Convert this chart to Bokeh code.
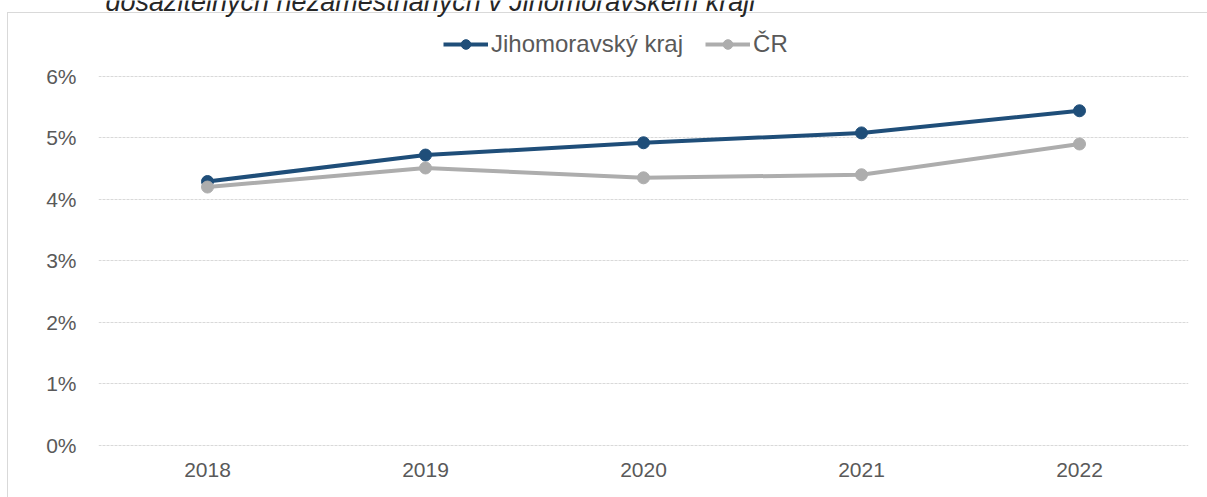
from bokeh.plotting import figure
from bokeh.models import FactorRange, Range1d, Legend, LegendItem, Label, PrintfTickFormatter
from bokeh.embed import file_html
from bokeh.resources import INLINE

years = ["2018", "2019", "2020", "2021", "2022"]
jmk = [4.29, 4.72, 4.92, 5.08, 5.44]
cr = [4.20, 4.51, 4.35, 4.40, 4.90]
y_ticks = [0, 1, 2, 3, 4, 5, 6]
series_names = ["Jihomoravský kraj", "ČR"]
title_text = "dosažitelných nezaměstnaných v Jihomoravském kraji"

FONT = "Liberation Sans"
TXT = "#595959"
BLUE = "#1F4E79"
GRAY = "#ADADAD"
LINE = "#D9D9D9"

p = figure(width=1207, height=497,
           x_range=FactorRange(*years, range_padding=0),
           y_range=Range1d(-0.1, 7.233),
           output_backend="svg", toolbar_location=None,
           min_border_left=98, min_border_right=19,
           min_border_top=0, min_border_bottom=46)
p.outline_line_color = None
p.background_fill_color = None
p.border_fill_color = None
p.styles = {
    "background-color": "white",
    "background-image": f"linear-gradient({LINE}, {LINE}), linear-gradient({LINE}, {LINE})",
    "background-position": "7px 12px, 7px 12px",
    "background-size": "1px 100%, 100% 1px",
    "background-repeat": "no-repeat",
}

p.xgrid.grid_line_color = None
p.ygrid.grid_line_color = LINE
p.ygrid.grid_line_width = 1
p.ygrid.grid_line_dash = "3 1"

for ax in (p.xaxis[0], p.yaxis[0]):
    ax.axis_line_color = None
    ax.major_tick_line_color = None
    ax.minor_tick_line_color = None
    ax.major_tick_out = 0
    ax.major_tick_in = 0
    ax.minor_tick_out = 0
    ax.major_label_text_font = FONT
    ax.major_label_text_font_size = "21px"
    ax.major_label_text_color = TXT

p.yaxis.ticker = y_ticks
p.yaxis.formatter = PrintfTickFormatter(format="%d%%")
p.yaxis.major_label_standoff = 22
p.xaxis.major_label_standoff = 11

l1 = p.line(years, jmk, line_width=4, color=BLUE)
s1 = p.scatter(years, jmk, size=12, color=BLUE)
l2 = p.line(years, cr, line_width=4, color=GRAY)
s2 = p.scatter(years, cr, size=12, color=GRAY)

legend = Legend(items=[LegendItem(label=series_names[0], renderers=[l1, s1]),
                       LegendItem(label=series_names[1], renderers=[l2, s2])],
                orientation="horizontal", location=(345, 393),
                border_line_color=None, background_fill_alpha=0,
                label_text_font=FONT, label_text_font_size="24px",
                label_text_color=TXT, glyph_width=45, glyph_height=24,
                label_standoff=3, spacing=22, padding=0, margin=0)
p.add_layout(legend, "center")

title = Label(x=0, y=7.209, x_offset=7, text=title_text,
              text_font=FONT, text_font_size="27px", text_font_style="italic",
              text_color="#262626", text_baseline="alphabetic")
p.add_layout(title)

open("out.html", "w").write(file_html(p, INLINE))
